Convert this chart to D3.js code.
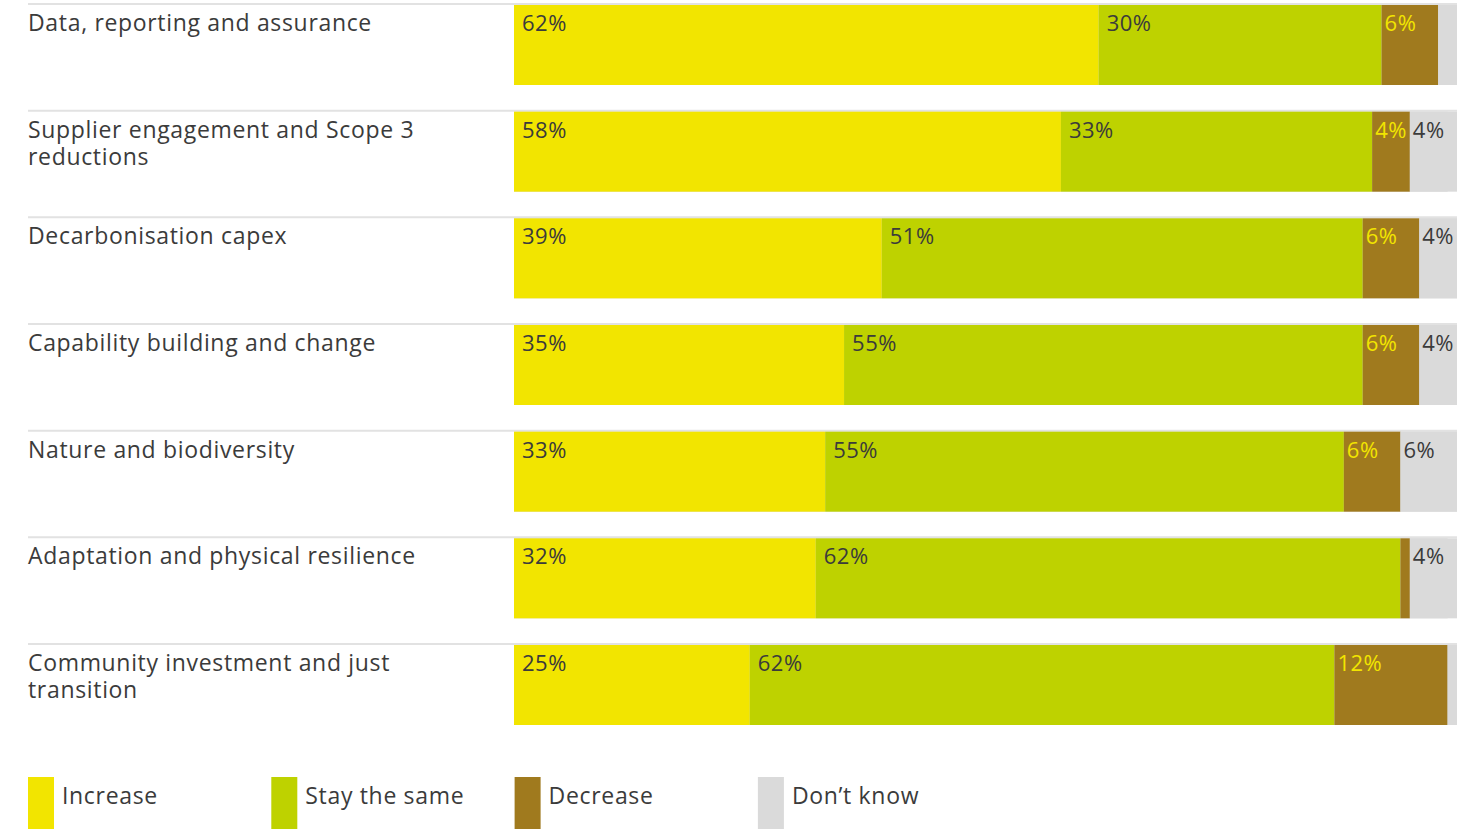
<!DOCTYPE html>
<html>
<head>
<meta charset="utf-8">
<script src="https://cdn.jsdelivr.net/npm/d3@7"></script>
<style>
  html, body { margin: 0; padding: 0; background: #ffffff; }
  svg { display: block; }
  text { font-family: "Open Sans", "Noto Sans", sans-serif; fill: #3b3b3b; }
</style>
</head>
<body>
<svg id="chart" width="1471" height="829"></svg>
<script>
// Survey areas and the share of responses for each expected change
const categories = [
  ["Data, reporting and assurance"],
  ["Supplier engagement and Scope 3", "reductions"],
  ["Decarbonisation capex"],
  ["Capability building and change"],
  ["Nature and biodiversity"],
  ["Adaptation and physical resilience"],
  ["Community investment and just", "transition"]
];
const seriesNames = ["Increase", "Stay the same", "Decrease", "Don\u2019t know"];
const increase   = [62, 58, 39, 35, 33, 32, 25];
const staySame   = [30, 33, 51, 55, 55, 62, 62];
const decrease   = [6, 4, 6, 6, 6, 1, 12];
const dontKnow   = [2, 4, 4, 4, 6, 4, 1];
// which values carry a printed label
const labelled = [
  [true, true, true, true, true, true, true],
  [true, true, true, true, true, true, true],
  [true, true, true, true, true, false, true],
  [false, true, true, true, true, true, false]
];

const colors = ["#f2e500", "#bed200", "#a07a1e", "#dadada"];
const labelColors = ["#3b3b3b", "#3b3b3b", "#f2e500", "#3b3b3b"];
const labelOffset = [8, 8, 3, 3];

const svg = d3.select("#chart");
const labelX = 28;
const x = d3.scaleLinear().domain([0, 100]).range([514, 1457]);
const y = d3.scaleBand()
  .domain(d3.range(categories.length))
  .range([5, 725])
  .paddingInner(0.25)
  .paddingOuter(0);

const rows = categories.map((c, i) => {
  const vals = [increase[i], staySame[i], decrease[i], dontKnow[i]];
  let acc = 0;
  return vals.map((v, k) => {
    const seg = { row: i, k, v, x0: acc, x1: acc + v };
    acc += v;
    return seg;
  });
});

// row separators
svg.append("g").selectAll("line")
  .data(d3.range(categories.length))
  .join("line")
  .attr("x1", labelX).attr("x2", x(100))
  .attr("y1", i => y(i) - 1).attr("y2", i => y(i) - 1)
  .attr("stroke", "#e2e2e2").attr("stroke-width", 2);

// category labels, one text element per line
const catLines = categories.flatMap((lines, i) =>
  lines.map((l, j) => ({ row: i, line: j, text: l })));
svg.append("g").selectAll("text")
  .data(catLines)
  .join("text")
  .attr("x", labelX)
  .attr("y", d => y(d.row) + 26 + d.line * 27)
  .attr("font-size", 23)
  .attr("letter-spacing", 0.67)
  .text(d => d.text);

// track behind each bar
svg.append("g").selectAll("rect")
  .data(d3.range(categories.length))
  .join("rect")
  .attr("x", x(0)).attr("width", x(100) - x(0))
  .attr("y", i => y(i)).attr("height", y.bandwidth())
  .attr("fill", colors[3]);

// stacked segments
const seg = svg.append("g").selectAll("g")
  .data(rows)
  .join("g");

seg.selectAll("rect")
  .data(d => d)
  .join("rect")
  .attr("x", d => x(d.x0))
  .attr("width", d => x(d.x1) - x(d.x0))
  .attr("y", d => y(d.row))
  .attr("height", y.bandwidth())
  .attr("fill", d => colors[d.k]);

seg.selectAll("text")
  .data(d => d.filter(s => labelled[s.k][s.row]))
  .join("text")
  .attr("x", d => x(d.x0) + labelOffset[d.k])
  .attr("y", d => y(d.row) + 26)
  .attr("font-size", 22)
  .attr("letter-spacing", 0.5)
  .style("fill", d => labelColors[d.k])
  .text(d => d.v + "%");

// legend
const legend = svg.append("g").selectAll("g")
  .data(seriesNames)
  .join("g")
  .attr("transform", (d, i) => `translate(${28 + i * 243.3},777)`);
legend.append("rect")
  .attr("width", 26).attr("height", 52)
  .attr("fill", (d, i) => colors[i]);
legend.append("text")
  .attr("x", 34).attr("y", 27)
  .attr("font-size", 23)
  .attr("letter-spacing", 0.67)
  .text(d => d);
</script>
</body>
</html>
